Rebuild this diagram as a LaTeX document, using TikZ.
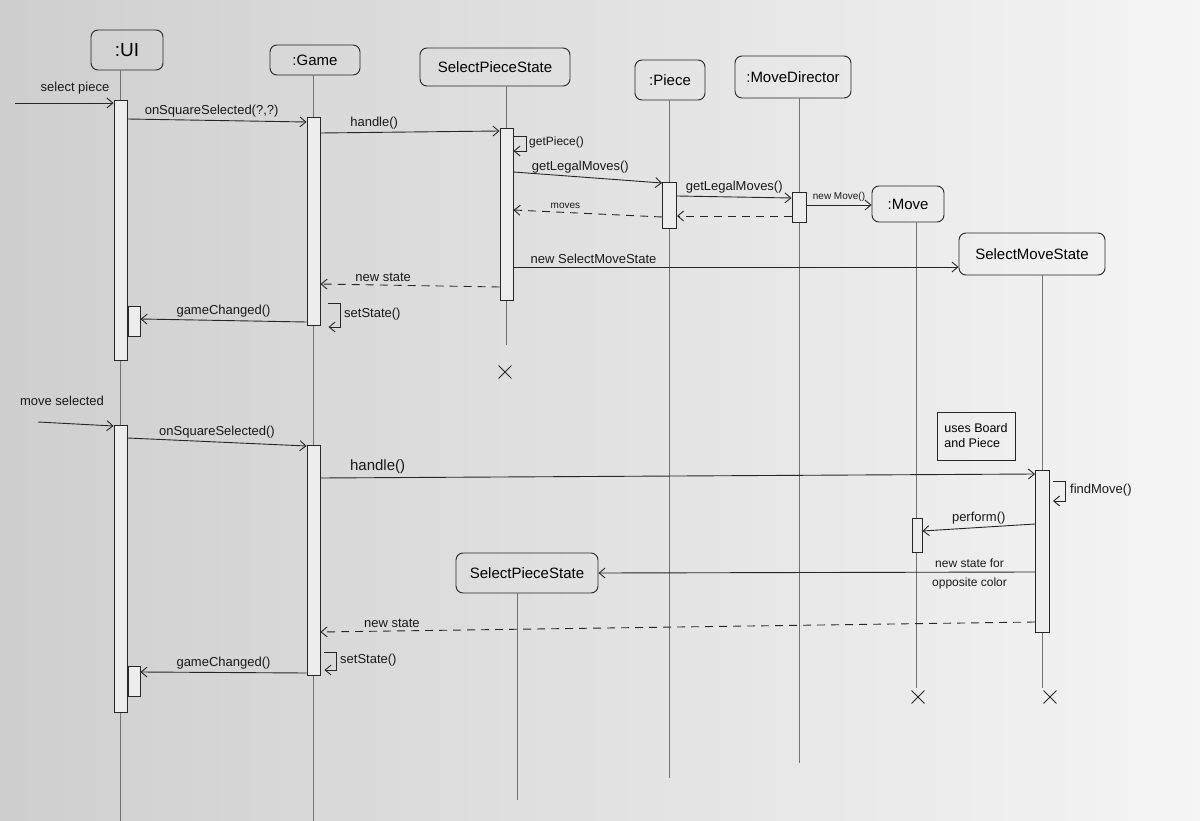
\documentclass[tikz,border=0pt]{standalone}
\usepackage{fontspec}
\setmainfont{Liberation Sans}
\usetikzlibrary{arrows.meta,calc,shapes.misc}
\begin{document}
\begin{tikzpicture}[x=1pt,y=-1pt,
 ink/.style={draw=black!85, line width=0.9pt},
 head/.style={ink, rounded corners=7pt, inner xsep=6pt, font=\fontsize{15}{17}\selectfont},
 act/.style={ink, fill=gray!14, minimum width=13pt, inner sep=0pt},
 life/.style={draw=black!55, line width=0.5pt},
 msg/.style={ink, -{Straight Barb[length=6pt,width=10pt]}},
 ret/.style={msg, dash pattern=on 8pt off 6pt},
 lbl/.style={font=\fontsize{13}{15}\selectfont, text=black!90, inner sep=2pt},
 mid/.style={font=\fontsize{12}{14}\selectfont, text=black!90, inner sep=2pt},
 small/.style={font=\fontsize{10}{12}\selectfont, text=black!90, inner sep=2pt},
 kill/.style={cross out, draw=black!85, line width=0.9pt, minimum size=12pt, inner sep=0pt},
 note/.style={ink, align=left, font=\fontsize{12.5}{15}\selectfont, inner sep=4pt, minimum width=78pt, minimum height=48pt}
]
\useasboundingbox (0,0) rectangle (1200,821);
\shade[left color=gray!38, right color=gray!8] (0,0) rectangle (1200,821);

% ---------- participants ----------
\node[head, minimum width=72pt, minimum height=40pt, font=\fontsize{19}{21}\selectfont] (ui) at (127,50) {:UI};
\node[head, minimum width=90pt, minimum height=30pt] (game) at (315,60) {:Game};
\node[head, minimum width=150pt, minimum height=38pt] (sps1) at (495,67) {SelectPieceState};
\node[head, minimum width=70pt, minimum height=40pt] (piece) at (670,80) {:Piece};
\node[head, minimum width=116pt, minimum height=42pt] (md) at (793,77) {:MoveDirector};
\node[head, minimum width=72pt, minimum height=36pt] (move) at (908,204) {:Move};
\node[head, minimum width=146pt, minimum height=42pt] (sms) at (1032,254) {SelectMoveState};
\node[head, minimum width=142pt, minimum height=40pt] (sps2) at (527,573) {SelectPieceState};

% ---------- lifeline ends ----------
\coordinate (uiEnd) at (120.5,821);
\coordinate (gEnd) at (313.5,821);
\coordinate (spEnd) at (506.5,345);
\coordinate (pEnd) at (669.5,778);
\coordinate (mdEnd) at (799,763);
\coordinate (mvEnd) at (916,688);
\coordinate (smEnd) at (1042.5,688);
\coordinate (sp2End) at (517,800);

\draw[life] (uiEnd |- ui.south) -- (uiEnd);
\draw[life] (gEnd |- game.south) -- (gEnd);
\draw[life] (spEnd |- sps1.south) -- (spEnd);
\draw[life] (pEnd |- piece.south) -- (pEnd);
\draw[life] (mdEnd |- md.south) -- (mdEnd);
\draw[life] (mvEnd |- move.south) -- (mvEnd);
\draw[life] (smEnd |- sms.south) -- (smEnd);
\draw[life] (sp2End |- sps2.south) -- (sp2End);

% ---------- activation bars ----------
\node[act, minimum height=260pt] (uiA) at (120.5,230) {};
\node[act, minimum width=12pt, minimum height=30pt] (uiS1) at (134,321) {};
\node[act, minimum height=208pt] (gA) at (313.5,221) {};
\node[act, minimum height=172pt] (spA) at (506.5,214) {};
\node[act, minimum width=14pt, minimum height=46pt] (pA) at (669.5,205) {};
\node[act, minimum width=14pt, minimum height=30pt] (mdA) at (799,207) {};
\node[act, minimum height=287pt] (uiB) at (120.5,568.5) {};
\node[act, minimum width=12pt, minimum height=30pt] (uiS2) at (134,681) {};
\node[act, minimum height=230pt] (gB) at (313.5,560) {};
\node[act, minimum width=14pt, minimum height=162pt] (smA) at (1042.5,551) {};
\node[act, minimum width=10pt, minimum height=34pt] (mvA) at (917,535) {};

% ---------- destruction marks ----------
\node[kill] (x1) at (505,372) {};
\node[kill] (x2) at (918,697) {};
\node[kill] (x3) at (1050,697) {};

% ---------- first scenario ----------
\coordinate (selIn) at (15,103);
\node[lbl] (lsel) at (75,88) {select piece};
\draw[msg] (selIn) -- (uiA.west |- selIn);

\draw[msg] (uiA.east |- 0,119) -- node[lbl, above=1pt, pos=0.47] (l2) {onSquareSelected(?,?)} (gA.west |- 0,122);
\draw[msg] (gA.east |- 0,133) -- node[lbl, above=1pt, pos=0.3] (l3) {handle()} (spA.west |- 0,131);
\draw[msg] (spA.east |- 0,136) -- ++(13,0) -- ++(0,15) -- (spA.east |- 0,151);
\node[mid, anchor=west] (l4) at (527,142) {getPiece()};
\draw[msg] (spA.east |- 0,172) -- node[lbl, above=1pt, pos=0.45] (l5) {getLegalMoves()} (pA.west |- 0,183);
\draw[msg] (pA.east |- 0,196) -- node[lbl, above=1pt, pos=0.5] (l6) {getLegalMoves()} (mdA.west |- 0,198);
\draw[msg] (mdA.east |- 0,205) -- node[small, above=1pt, pos=0.5] (l7) {new Move()} (move.west |- 0,205);
\draw[ret] (mdA.west |- 0,216) -- (pA.east |- 0,216);
\draw[ret] (pA.west |- 0,217) -- node[small, above=1pt, pos=0.65] (l9) {moves} (spA.east |- 0,210);
\draw[msg] (spA.east |- 0,267) -- node[lbl, above=1pt, pos=0.18] (l10) {new SelectMoveState} (sms.west |- 0,267);
\draw[ret] (spA.west |- 0,287) -- node[lbl, above=1pt, pos=0.65] (l11) {new state} (gA.east |- 0,284);
\draw[msg] ($(gA.east |- 0,303)+(8,0)$) -- ++(12,0) -- ++(0,24) -- ++(-12,0);
\node[lbl, anchor=west] (l12) at (342,314) {setState()};
\draw[msg] (gA.west |- 0,322) -- node[lbl, above=1pt, pos=0.5] (l13) {gameChanged()} (uiS1.east |- 0,319);

% ---------- second scenario ----------
\coordinate (mvIn) at (38,422);
\node[lbl] (lmv) at (62,401) {move selected};
\draw[msg] (mvIn) -- (uiB.west |- 0,426);
\draw[msg] (uiB.east |- 0,438) -- node[lbl, above=1pt, pos=0.5] (l15) {onSquareSelected()} (gB.west |- 0,446);
\draw[msg] (gB.east |- 0,478) -- node[lbl, above=2pt, pos=0.08, font=\fontsize{15}{17}\selectfont] (l16) {handle()} (smA.west |- 0,474);
\node[note] (n1) at (976,436) {uses Board\\and Piece};
\draw[msg] ($(smA.east |- 0,481)+(3,0)$) -- ++(12,0) -- ++(0,20) -- ++(-12,0);
\node[lbl, anchor=west] (l17) at (1068,490) {findMove()};
\draw[msg] (smA.west |- 0,524) -- node[lbl, above=1pt, pos=0.5] (l18) {perform()} (mvA.east |- 0,531);
\draw[msg] (smA.west |- 0,572) -- node[mid, above=2pt, pos=0.15] (l19a) {new state for} node[mid, below=3pt, pos=0.15] (l19b) {opposite color} (sps2.east |- 0,573);
\draw[ret] (smA.west |- 0,622) -- node[lbl, above=1pt, pos=0.9] (l20) {new state} (gB.east |- 0,632);
\draw[msg] ($(gB.east |- 0,652)+(4,0)$) -- ++(12,0) -- ++(0,18) -- ++(-12,0);
\node[lbl, anchor=west] (l21) at (338,660) {setState()};
\draw[msg] (gB.west |- 0,673) -- node[lbl, above=1pt, pos=0.5] (l22) {gameChanged()} (uiS2.east |- 0,672);
\end{tikzpicture}
\end{document}
